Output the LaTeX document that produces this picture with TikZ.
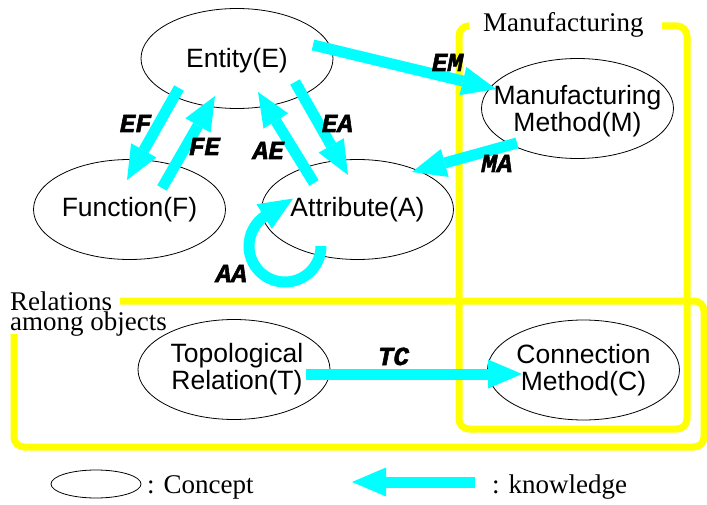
\documentclass[tikz,border=0pt]{standalone}
\usepackage{fontspec}
\setmainfont{Liberation Serif}
\setsansfont{Liberation Sans}
\setmonofont{Liberation Mono}
\newfontfamily\kfont{Liberation Mono}[BoldItalicFeatures={FakeBold=2}]
\usetikzlibrary{arrows.meta,shapes.geometric}
\definecolor{kcyan}{RGB}{0,255,255}
\definecolor{gyellow}{RGB}{255,255,0}
\begin{document}
\begin{tikzpicture}[x=1pt,y=1pt,
  concept/.style={draw=black,line width=0.8pt,ellipse,minimum width=192pt,minimum height=100pt,inner sep=0pt},
  ctext/.style={font=\sffamily\fontsize{26.5}{27}\selectfont,align=center,inner sep=0pt},
  know/.style={draw=kcyan,line width=11pt,-{Triangle[length=34pt,width=29pt,line width=0pt]}},
  klabel/.style={font=\kfont\bfseries\itshape\fontsize{26}{26}\selectfont,anchor=base,inner sep=0pt},
  stext/.style={font=\rmfamily\fontsize{27}{20}\selectfont,anchor=base west,inner sep=0pt,align=left},
  group/.style={draw=gyellow,line width=7pt,rounded corners=10pt}]
\useasboundingbox (0,0) rectangle (707,-505);
% groups
\draw[group] (120,-301) -- (704,-301) -- (704,-447) -- (14,-447) -- (14,-334);
\draw[group] (467,-26) -- (459,-26) -- (459,-429) -- (687,-429) -- (687,-26) -- (662,-26);
\node[stext] (mlab) at (483,-32) {Manufacturing};
\node[stext,anchor=north west] (rlab) at (10,-292) {Relations\\among objects};
% concept nodes
\node[concept] (E) at (237,-58.5) {};
\node[concept] (F) at (129.5,-209.5) {};
\node[concept] (A) at (357.5,-209.5) {};
\node[concept] (M) at (577.5,-108.5) {};
\node[concept] (T) at (234,-369.5) {};
\node[concept] (C) at (583.5,-370) {};
% arrow endpoints
\coordinate (ef1) at (179,-88);  \coordinate (ef2) at (127,-180);
\coordinate (fe1) at (162,-188); \coordinate (fe2) at (215,-96);
\coordinate (ae1) at (314,-183); \coordinate (ae2) at (258,-92);
\coordinate (ea1) at (295,-82);  \coordinate (ea2) at (348,-175);
\coordinate (em1) at (313,-45);  \coordinate (em2) at (496,-89);
\coordinate (ma1) at (517,-143); \coordinate (ma2) at (412,-172);
\coordinate (tc1) at (306,-374); \coordinate (tc2) at (522,-374);
\coordinate (aa1) at (321,-246);
\coordinate (lg1) at (475,-482); \coordinate (lg2) at (352,-482);
% knowledge arrows
\draw[know] (ef1) -- (ef2);
\draw[know] (fe1) -- (fe2);
\draw[know] (ae1) -- (ae2);
\draw[know] (ea1) -- (ea2);
\draw[know] (em1) -- (em2);
\draw[know] (ma1) -- (ma2);
\draw[know] (tc1) -- (tc2);
\draw[know] (aa1) arc[start angle=0,end angle=-238,radius=36] -- ++(32:32);
\draw[know] (lg1) -- (lg2);
% concept texts
\node[ctext] at ([yshift=-2pt]E.center) {Entity(E)};
\node[ctext] at (F) {Function(F)};
\node[ctext] at (A) {Attribute(A)};
\node[ctext] at ([yshift=-3pt]M.center) {Manufacturing\\Method(M)};
\node[ctext] at ([xshift=3pt]T.center) {Topological\\Relation(T)};
\node[ctext] at (C) {Connection\\Method(C)};
% knowledge labels
\node[klabel] at (135.5,-132) {EF};
\node[klabel] at (204.5,-155) {FE};
\node[klabel] at (268.5,-159) {AE};
\node[klabel] at (337.5,-132) {EA};
\node[klabel] at (231.5,-282) {AA};
\node[klabel] at (447.5,-71) {EM};
\node[klabel] at (497,-172) {MA};
\node[klabel] at (393.5,-365) {TC};
% legend
\node[draw=black,line width=0.8pt,ellipse,minimum width=90pt,minimum height=28pt,inner sep=0pt] (lg) at (96,-484) {};
\node[stext] (lgc) at (147,-493) {: Concept};
\node[stext] (lgk) at (492,-493) {: knowledge};
\end{tikzpicture}
\end{document}
